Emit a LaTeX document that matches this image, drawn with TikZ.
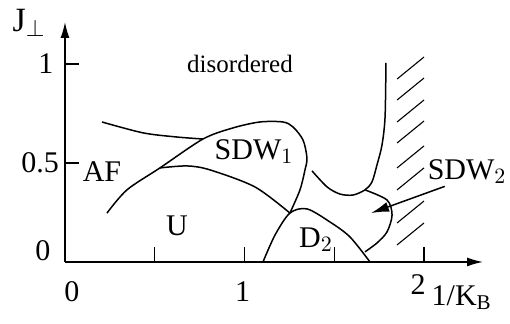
\documentclass[tikz,border=0pt]{standalone}
\usepackage{fontspec}
\setmainfont{Liberation Serif}
\usetikzlibrary{arrows.meta}
\begin{document}
\begin{tikzpicture}[x=89.75pt, y=99pt,
    phase/.style={line width=0.75pt},
    axis/.style={line width=0.75pt, -{Latex[length=8pt,width=4.5pt]}},
    lbl/.style={font=\fontsize{15}{17}\selectfont, inner sep=1pt}]
    \useasboundingbox (-0.362,-0.313) rectangle (2.479,1.323);

    % Axes
    \coordinate (origin) at (0,0);
    \coordinate (xend) at (2.329,0);
    \coordinate (yend) at (0,1.212);
    \draw[axis] (origin) -- (xend);
    \draw[axis] (origin) -- (yend);
    \foreach \x in {0.5,1,1.5,2} \draw[phase] (\x,0) -- (\x,0.076); % ticks
    \foreach \y in {0.5,1} \draw[phase] (0,\y) -- (0.078,\y);

    % Axis labels
    \node[lbl, font=\fontsize{17}{19}\selectfont] (jperp) at (-0.2,1.207) {J$_\perp$};
    \node[lbl] (yone) at (-0.106,1.0) {1};
    \node[lbl] (yhalf) at (-0.139,0.5) {0.5};
    \node[lbl] (yzero) at (-0.123,0.056) {0};
    \node[lbl] (xzero) at (0.039,-0.15) {0};
    \node[lbl] (xone) at (0.99,-0.15) {1};
    \node[lbl] (xtwo) at (1.967,-0.116) {2};
    \node[lbl] (kb) at (2.21,-0.18) {1/K$_\mathrm{B}$};

    % Phase boundaries
    \draw[phase] plot[smooth] coordinates {(0.206,0.707) (0.435,0.652) (0.624,0.631) (0.769,0.621)};
    \draw[phase] plot[smooth] coordinates {(0.234,0.247) (0.345,0.364) (0.529,0.475) (0.769,0.621)
        (0.936,0.677) (1.086,0.707) (1.214,0.707) (1.27,0.682) (1.326,0.616) (1.348,0.525)
        (1.337,0.465) (1.309,0.364) (1.253,0.247)};
    \draw[phase] plot[smooth] coordinates {(0.529,0.475) (0.68,0.485) (0.808,0.465) (1.058,0.379) (1.253,0.247)};
    \draw[phase] plot[smooth] coordinates {(1.103,0) (1.17,0.136) (1.253,0.247) (1.348,0.268)
        (1.476,0.202) (1.588,0.126) (1.699,0)};
    \draw[phase] plot[smooth] coordinates {(1.376,0.460) (1.46,0.379) (1.532,0.343) (1.604,0.338)
        (1.671,0.364) (1.71,0.404) (1.738,0.490) (1.766,0.591) (1.783,0.732) (1.788,1.005)};
    \draw[phase] plot[smooth] coordinates {(1.671,0.364) (1.794,0.313) (1.822,0.237) (1.794,0.152)
        (1.738,0.096) (1.671,0.051)};

    % Hatching (forbidden region)
    \foreach \y in {0.924,0.818,0.707,0.601,0.475,0.364,0.197,0.086}
        \draw[line width=0.55pt] (1.85,\y) -- (2.0,\y+0.111);

    % Phase names
    \node[font=\fontsize{12.5}{15}\selectfont] (disord) at (0.975,1.0) {disordered};
    \node[lbl] (af) at (0.206,0.455) {AF};
    \node[lbl] (u) at (0.624,0.182) {U};
    \node[lbl] (sdwone) at (1.053,0.556) {SDW$_1$};
    \node[lbl] (dtwo) at (1.398,0.111) {D$_2$};
    \node[lbl] (sdwtwo) at (2.24,0.455) {SDW$_2$};
    \coordinate (sdwtwotip) at (1.705,0.247);
    \draw[phase, -{Latex[length=9pt,width=5pt]}] (sdwtwo.213) -- (sdwtwotip);
\end{tikzpicture}
\end{document}
